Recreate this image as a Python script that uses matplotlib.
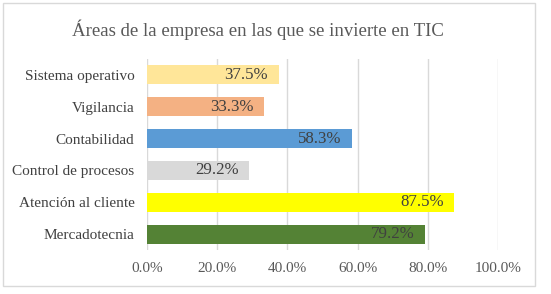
import matplotlib
matplotlib.use("Agg")
import matplotlib.pyplot as plt
from matplotlib.patches import Rectangle
from matplotlib.ticker import FuncFormatter

categories = ["Sistema operativo", "Vigilancia", "Contabilidad",
              "Control de procesos", "Atención al cliente", "Mercadotecnia"]
values = [37.5, 33.3, 58.3, 29.2, 87.5, 79.2]
colors = ["#FFE699", "#F4B183", "#5B9BD5", "#D9D9D9", "#FFFF00", "#548235"]
ticks = [0, 20, 40, 60, 80, 100]
title = "Áreas de la empresa en las que se invierte en TIC"

plt.rcParams['font.family'] = ['Liberation Serif', 'DejaVu Serif']
W, H = 551, 294
fig = plt.figure(figsize=(W / 100, H / 100), dpi=100)
fig.patch.set_facecolor("white")

# outer chart frame
fig.patches.append(Rectangle((3 / W, 1 - 286 / H), (535 - 3) / W, (286 - 3) / H,
                             transform=fig.transFigure, fill=False,
                             edgecolor="#D9D9D9", linewidth=1))

ax = fig.add_axes([147 / W, 1 - 250 / H, (498 - 147) / W, (250 - 59) / H])
y = list(range(len(categories)))
ax.barh(y, values, color=colors, height=0.6, zorder=2)
ax.set_ylim(len(categories) - 0.5, -0.5)
ax.set_xlim(0, 100)
ax.set_yticks(y)
ax.set_yticklabels(categories, fontsize=11, color="#404040")
ax.set_xticks(ticks)
ax.xaxis.set_major_formatter(FuncFormatter(lambda v, p: f"{v:.1f}%"))
ax.tick_params(axis="x", labelsize=11, colors="#595959", length=0, pad=9)
ax.tick_params(axis="y", length=0, pad=9)
ax.grid(axis="x", color="#D9D9D9", linewidth=1, zorder=0)
for s in ax.spines.values():
    s.set_visible(False)

for yi, v in zip(y, values):
    ax.text(v - 3.0, yi, f"{v:.1f}%", ha="right", va="center",
            fontsize=12.2, color="#404040", zorder=3)

fig.text(0.5 * (72 + 444) / W, 1 - 30 / H, title, ha="center", va="center",
         fontsize=13.5, color="#595959")

fig.savefig("out.png", dpi=100)
